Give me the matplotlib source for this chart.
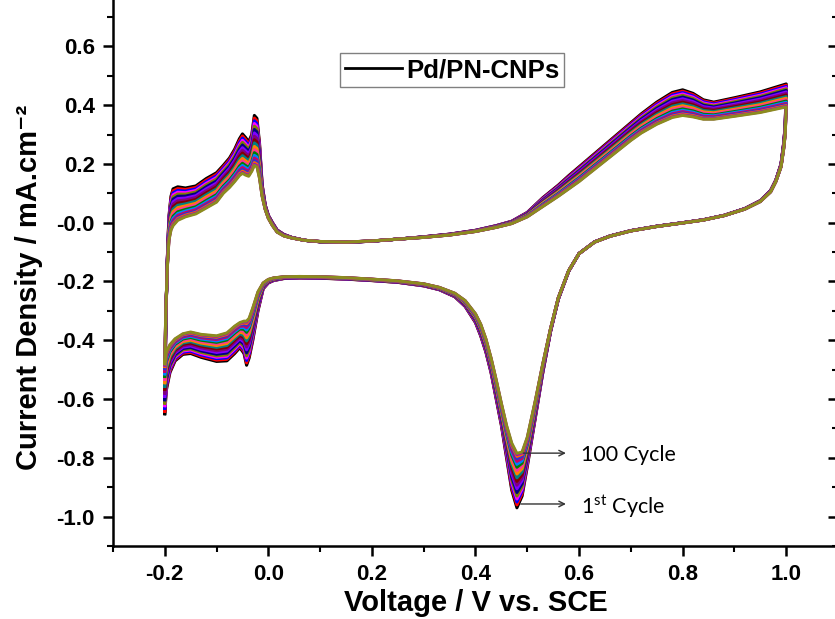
import numpy as np
import matplotlib
matplotlib.use("Agg")
import matplotlib.pyplot as plt
from matplotlib.lines import Line2D

plt.rcParams['font.family'] = ['Liberation Sans', 'DejaVu Sans']

# anodic sweep (-0.2 -> 1.0 V)
v_anodic = [-0.2, -0.198, -0.195, -0.192, -0.188, -0.184, -0.175, -0.16, -0.14, -0.12,
            -0.1, -0.087, -0.075, -0.065, -0.056, -0.05, -0.044, -0.038, -0.032, -0.027,
            -0.022, -0.017, -0.012, -0.006, 0.0, 0.008, 0.017, 0.03, 0.045, 0.07,
            0.1, 0.15, 0.2, 0.25, 0.3, 0.35, 0.4, 0.44, 0.47, 0.5,
            0.53, 0.56, 0.58, 0.6, 0.65, 0.7, 0.72, 0.75, 0.78, 0.8,
            0.82, 0.84, 0.86, 0.9, 0.95, 1.0]
i_anodic_1st = [-0.65, -0.35, -0.12, 0.02, 0.09, 0.115, 0.122, 0.118, 0.125, 0.15,
                0.17, 0.195, 0.22, 0.25, 0.285, 0.302, 0.29, 0.275, 0.3, 0.365,
                0.355, 0.27, 0.13, 0.06, 0.025, 0.0, -0.025, -0.04, -0.05, -0.06,
                -0.065, -0.067, -0.063, -0.056, -0.048, -0.039, -0.026, -0.01, 0.005, 0.035,
                0.085, 0.128, 0.16, 0.19, 0.265, 0.34, 0.37, 0.41, 0.443, 0.452,
                0.44, 0.418, 0.41, 0.425, 0.445, 0.472]
i_anodic_100th = [-0.48, -0.3, -0.15, -0.06, -0.025, -0.01, 0.008, 0.02, 0.03, 0.05,
                  0.07, 0.1, 0.12, 0.14, 0.16, 0.168, 0.162, 0.158, 0.175, 0.195,
                  0.19, 0.15, 0.09, 0.045, 0.015, -0.01, -0.032, -0.045, -0.052, -0.06,
                  -0.064, -0.066, -0.062, -0.056, -0.05, -0.042, -0.03, -0.016, -0.003, 0.02,
                  0.055, 0.09, 0.115, 0.14, 0.21, 0.28, 0.305, 0.335, 0.358, 0.365,
                  0.36, 0.352, 0.352, 0.362, 0.375, 0.394]

# cathodic sweep (1.0 -> -0.2 V)
v_cathodic = [1.0, 0.998, 0.995, 0.99, 0.98, 0.97, 0.95, 0.92, 0.88, 0.84,
              0.8, 0.75, 0.7, 0.66, 0.63, 0.6, 0.58, 0.56, 0.545, 0.53,
              0.515, 0.5, 0.49, 0.48, 0.47, 0.46, 0.45, 0.44, 0.43, 0.42,
              0.41, 0.4, 0.38, 0.36, 0.33, 0.3, 0.25, 0.2, 0.15, 0.1,
              0.06, 0.03, 0.01, 0.0, -0.01, -0.02, -0.03, -0.037, -0.042, -0.047,
              -0.055, -0.065, -0.08, -0.1, -0.13, -0.15, -0.165, -0.18, -0.19, -0.197,
              -0.2]
i_cathodic_1st = [0.472, 0.33, 0.27, 0.2, 0.145, 0.11, 0.075, 0.048, 0.025, 0.01,
                  0.0, -0.012, -0.027, -0.045, -0.065, -0.105, -0.165, -0.26, -0.37, -0.51,
                  -0.67, -0.83, -0.93, -0.97, -0.91, -0.80, -0.69, -0.60, -0.51, -0.44,
                  -0.385, -0.34, -0.285, -0.252, -0.228, -0.215, -0.203, -0.197, -0.192, -0.189,
                  -0.188, -0.19, -0.197, -0.205, -0.225, -0.3, -0.40, -0.46, -0.485, -0.445,
                  -0.425, -0.445, -0.47, -0.472, -0.458, -0.445, -0.448, -0.47, -0.51, -0.57,
                  -0.65]
i_cathodic_100th = [0.394, 0.3, 0.25, 0.19, 0.14, 0.105, 0.072, 0.046, 0.024, 0.009,
                    -0.001, -0.013, -0.028, -0.046, -0.066, -0.105, -0.163, -0.255, -0.36, -0.48,
                    -0.61, -0.73, -0.78, -0.785, -0.75, -0.69, -0.615, -0.535, -0.46, -0.395,
                    -0.345, -0.31, -0.265, -0.24, -0.22, -0.208, -0.198, -0.192, -0.187, -0.184,
                    -0.183, -0.184, -0.188, -0.193, -0.205, -0.235, -0.29, -0.325, -0.335, -0.335,
                    -0.34, -0.352, -0.375, -0.385, -0.38, -0.372, -0.378, -0.395, -0.415, -0.44,
                    -0.48]

# cathodic peak current of each visible cycle line, 1st -> 100th
peak_levels = [-0.970, -0.960, -0.950, -0.940, -0.930, -0.918, -0.905, -0.893, -0.880, -0.868,
               -0.855, -0.843, -0.832, -0.822, -0.812, -0.803, -0.795, -0.789, -0.785]
colors = ['#000000', '#FF0000', '#0000FF', '#FF00FF', '#808000', '#000080', '#8000FF',
          '#800080', '#800000', '#008080', '#FF8000', '#FF3399', '#008000', '#0080FF',
          '#CC0066', '#3333CC', '#FF6600', '#9900CC', '#8C8C1E']

v_loop = np.array(v_anodic + v_cathodic)
first = np.array(i_anodic_1st + i_cathodic_1st)
last = np.array(i_anodic_100th + i_cathodic_100th)

fig = plt.figure(figsize=(8.35, 6.19), dpi=100)
ax = fig.add_axes([0.1353, 0.1179, 0.8683, 0.888])

for peak, c in zip(peak_levels, colors):
    w = (peak - peak_levels[0]) / (peak_levels[-1] - peak_levels[0])
    ax.plot(v_loop, first + w * (last - first), color=c, lw=2.2, solid_joinstyle='round')

xmaj = np.arange(-0.2, 1.01, 0.2)
ymaj = np.arange(-1.0, 0.61, 0.2)
ax.set_xlim(-0.3, 1.1)
ax.set_ylim(-1.1, 0.77)
ax.set_xticks(xmaj)
ax.set_xticks(np.arange(-0.3, 1.11, 0.1), minor=True)
ax.set_yticks(ymaj)
ax.set_yticks(np.arange(-1.1, 0.71, 0.1), minor=True)
ax.set_xticklabels([f"{t:.1f}" for t in xmaj])
ax.set_yticklabels([f"{t:.1f}" for t in ymaj])
for s in ['left', 'bottom']:
    ax.spines[s].set_linewidth(1.8)
ax.spines['top'].set_visible(False)
ax.spines['right'].set_visible(False)
ax.tick_params(which='major', direction='out', length=7, width=1.8, labelsize=16, pad=6)
ax.tick_params(which='minor', direction='out', length=4, width=1.5)
for t in ax.get_xticklabels() + ax.get_yticklabels():
    t.set_fontweight('bold')

# right-hand ticks pointing inward from the (cropped) right frame
sec = ax.secondary_yaxis('right')
sec.set_yticks(ymaj)
sec.set_yticks(np.arange(-1.1, 0.71, 0.1), minor=True)
sec.tick_params(which='major', direction='in', length=7, width=1.8, labelright=False)
sec.tick_params(which='minor', direction='in', length=4, width=1.5)
sec.spines['right'].set_linewidth(1.8)

ax.set_xlabel('Voltage / V vs. SCE', fontsize=21, fontweight='bold', labelpad=3)
ax.set_ylabel('Current Density / mA.cm\u207b\u00b2', fontsize=21, fontweight='bold')
ax.yaxis.set_label_coords(-0.097, 0.47)

ax.annotate('', xy=(0.58, -0.784), xytext=(0.487, -0.784),
            arrowprops=dict(arrowstyle='->', color='#333333', lw=1.0))
ax.annotate('', xy=(0.58, -0.957), xytext=(0.482, -0.957),
            arrowprops=dict(arrowstyle='->', color='#333333', lw=1.0))
ax.text(0.603, -0.792, '100 Cycle', fontsize=15.5, family=['Lato', 'DejaVu Sans'], va='center')
ax.text(0.603, -0.965, '1$^{\\mathregular{st}}$ Cycle', fontsize=15.5,
        family=['Lato', 'DejaVu Sans'], va='center')

leg = ax.legend(handles=[Line2D([], [], color='black', lw=2)], labels=['Pd/PN-CNPs'],
                loc='center', bbox_to_anchor=(0.468, 0.866), fancybox=False,
                edgecolor='#808080', framealpha=1, handlelength=2.2, handletextpad=0.15,
                borderpad=0.2, borderaxespad=0, prop={'weight': 'bold', 'size': 18.5})
leg.get_frame().set_linewidth(1.0)

fig.savefig('out.png', dpi=100)
